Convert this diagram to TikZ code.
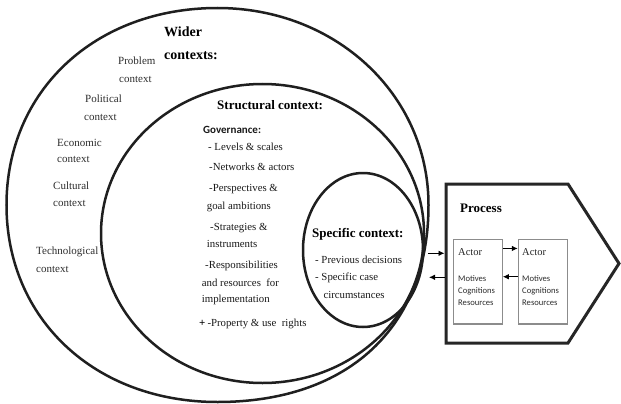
\documentclass[tikz,border=0pt]{standalone}
\usepackage{fontspec}
\setmainfont{Liberation Serif}
\newfontfamily\calibfont{Carlito}
\usetikzlibrary{arrows.meta}

% closed oval: style, cx, cy, rx, ry, then a roundness factor per quadrant
% (lower-right, lower-left, upper-left, upper-right); 0.5523 gives an ellipse
\newcommand\ringpath[9]{%
  \draw[#1] ({#2+#4},#3)
    .. controls ({#2+#4},{#3+#6*#5}) and ({#2+#6*#4},{#3+#5}) .. (#2,{#3+#5})
    .. controls ({#2-#7*#4},{#3+#5}) and ({#2-#4},{#3+#7*#5}) .. ({#2-#4},#3)
    .. controls ({#2-#4},{#3-#8*#5}) and ({#2-#8*#4},{#3-#5}) .. (#2,{#3-#5})
    .. controls ({#2+#9*#4},{#3-#5}) and ({#2+#4},{#3-#9*#5}) .. cycle;}

\tikzset{
  ring/.style={line width=2.5pt, draw=black!88},
  procline/.style={line width=3pt, draw=black!85, line join=miter},
  actorbox/.style={draw=black!45, line width=1.1pt, minimum width=49pt,
    minimum height=84.7pt, inner sep=0pt},
  arr/.style={draw=black, line width=0.9pt, -{Latex[length=6pt,width=5.5pt]}},
  lbl/.style={anchor=base west, inner sep=0pt, text=black!82,
    font=\fontsize{11}{13}\selectfont},
  headbig/.style={anchor=base west, inner sep=0pt, font=\bfseries\fontsize{14}{16}\selectfont},
  head/.style={anchor=base west, inner sep=0pt, font=\bfseries\fontsize{13}{15}\selectfont},
  govhead/.style={anchor=base west, inner sep=0pt, text=black!90,
    font=\calibfont\bfseries\fontsize{11}{13}\selectfont},
  item/.style={anchor=base west, inner sep=0pt, text=black!90,
    font=\fontsize{10.8}{13}\selectfont},
  actorname/.style={anchor=base west, inner sep=0pt, text=black!85,
    font=\fontsize{10.5}{12}\selectfont},
  trait/.style={anchor=base west, inner sep=0pt, text=black!82,
    font=\calibfont\fontsize{8.6}{10}\selectfont},
}

\begin{document}
\begin{tikzpicture}[x=1pt, y=-1pt]
\fill[white] (0,0) rectangle (621,404);
\useasboundingbox (0,0) rectangle (621,404);

% nested context rings
\ringpath{ring}{217.5}{205}{211}{197}{0.62}{0.58}{0.58}{0.56}
\ringpath{ring}{262.5}{233.5}{161.5}{149.5}{0.5523}{0.5523}{0.5523}{0.5523}
\ringpath{ring}{363}{250}{60}{77}{0.5523}{0.5523}{0.5523}{0.5523}

% wider contexts
\node[headbig] (wider) at (164,36.6) {Wider};
\node[headbig] (widerb) at (164,59.8) {contexts:};
\node[lbl] (prob) at (118,64.3) {Problem};
\node[lbl] (probc) at (119,82.3) {context};
\node[lbl] (pol) at (85,102.6) {Political};
\node[lbl] (polc) at (84,120) {context};
\node[lbl] (eco) at (57,146.6) {Economic};
\node[lbl] (ecoc) at (57,162.6) {context};
\node[lbl] (cul) at (53,189.6) {Cultural};
\node[lbl] (culc) at (53,206) {context};
\node[lbl] (tec) at (36,254.5) {Technological};
\node[lbl] (tecc) at (36,272.3) {context};

% structural context
\node[head] (struct) at (217,109.2) {Structural context:};
\node[govhead] (gov) at (203,133.6) {Governance:};
\node[item] (g1) at (208,150) {- Levels \& scales};
\node[item] (g2) at (209,170.6) {-Networks \& actors};
\node[item] (g3) at (209,191.6) {-Perspectives \&};
\node[item] (g3b) at (206.7,209.3) {goal ambitions};
\node[item] (g4) at (210,230) {-Strategies \&};
\node[item] (g4b) at (206.7,247.3) {instruments};
\node[item] (g5) at (205,268) {-Responsibilities};
\node[item] (g5b) at (201.7,286) {and resources\ \ for};
\node[item] (g5c) at (201.7,302.6) {implementation};
\node[item, font=\bfseries\fontsize{11}{13}\selectfont, text=black] (plus) at (199,326.6) {+};
\node[item] (g6) at (207.3,326.6) {-Property \& use\ \ rights};

% specific context
\node[head] (spec) at (312,237.5) {Specific context:};
\node[item] (s1) at (315,263.3) {- Previous decisions};
\node[item] (s2) at (315,280) {- Specific case};
\node[item] (s2b) at (323.3,298.3) {circumstances};

% process arrow shape
\coordinate (pA) at (446,184);
\coordinate (pB) at (568,184);
\coordinate (pC) at (619,263.5);
\coordinate (pD) at (568,343);
\coordinate (pE) at (446,343);
\draw[procline] (pA) -- (pB) -- (pC) -- (pD) -- (pE) -- cycle;
\node[head] (proc) at (460,212.3) {Process};

% actors
\node[actorbox] (a1) at (477.8,281.65) {};
\node[actorbox] (a2) at (542.8,281.65) {};
\node[actorname] (a1n) at (458,255.6) {Actor};
\node[actorname] (a2n) at (522,255.6) {Actor};
\node[trait] (a1m) at (458,281.6) {Motives};
\node[trait] (a1c) at (458,293.6) {Cognitions};
\node[trait] (a1r) at (458,305.6) {Resources};
\node[trait] (a2m) at (522,281.6) {Motives};
\node[trait] (a2c) at (522,293.6) {Cognitions};
\node[trait] (a2r) at (522,305.6) {Resources};

\draw[arr] ([yshift=-9.7pt]a1.north east) -- ([yshift=-9.7pt]a2.north west);
\draw[arr] ([yshift=-38pt]a2.north west) -- ([yshift=-38pt]a1.north east);

% exchange between context and process
\coordinate (sIn) at (428,253.3);
\coordinate (sOut) at (429,277.3);
\draw[arr, shorten >=1.5pt] (sIn) -- (sIn -| pA);
\draw[arr, shorten <=1.5pt] (sOut -| pA) -- (sOut);
\end{tikzpicture}
\end{document}
